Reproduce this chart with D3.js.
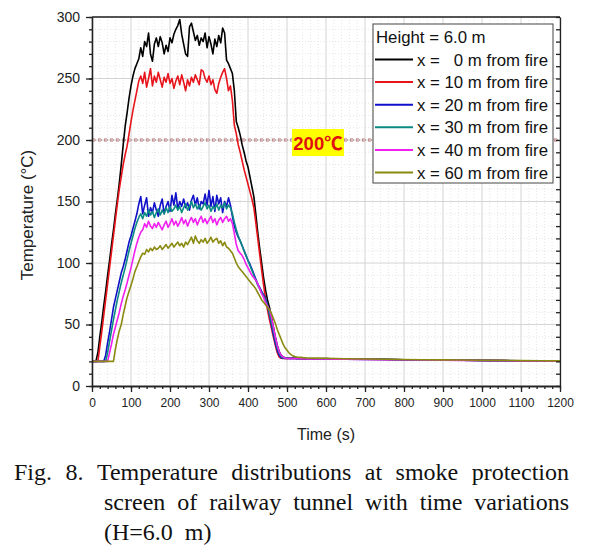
<!DOCTYPE html>
<html><head><meta charset="utf-8">
<script src="https://cdn.jsdelivr.net/npm/d3@7"></script>
<style>body{margin:0;background:#fff}svg{display:block}</style>
</head><body><svg id="chart" width="590" height="551"></svg>
<script>
// ---- data ----
const times = [0,5,10,15,20,25,30,35,40,45,50,
55,60,65,70,75,80,85,90,95,100,
105,110,115,120,125,130,135,140,145,150,
155,160,165,170,175,180,185,190,195,200,
205,210,215,220,225,230,235,240,245,250,
255,260,265,270,275,280,285,290,295,300,
305,310,315,320,325,330,335,340,345,350,
355,360,365,370,375,380,385,390,395,400,
405,410,415,420,425,430,435,440,445,450,
455,460,465,470,475,480,485,490,495,500,
505,510,515,520,525,530,535,540,545,550,
575,600,625,650,700,750,800,850,900,950,1000,1050,1100,1150,1200];

const x0m = [20,20,20,27,40,52,65,77,90,102,115,
127,140,152,165,180,196,211,222,234,244,
252,258,262,266,275,268,280,276,287,270,
264,278,283,276,284,279,270,277,272,283,
279,286,290,293,298,286,278,270,268,292,
295,288,281,285,277,283,280,287,275,284,
278,270,282,276,285,279,291,287,265,262,
258,254,240,215,210,204,196,190,183,178,
170,162,154,140,125,112,100,88,78,70,
64,56,48,40,33,28,25,23.5,23,22.8,
22.6,23,22.7,22.5,22.8,22.4,22.6,22.3,22.5,22.4,
22.2,22.3,22,22.1,21.8,21.7,21.4,21.3,21.1,21,20.8,20.7,20.5,20.4,20.3];

const x10m = [20,20,20,20,32,44,57,70,83,96,109,
122,135,148,160,170,180,188,195,205,215,
224,232,240,248,252,246,255,243,250,258,
244,252,247,255,249,243,251,247,254,246,
250,242,248,252,245,253,247,240,249,244,
251,247,253,249,245,257,256,250,247,252,
245,249,241,238,246,251,255,258,250,240,
244,232,212,205,196,190,183,176,170,164,
158,152,145,133,120,107,94,82,71,62,
54,47,40,33,27,23.5,22.5,22.3,22.5,22.2,
22.6,22.4,22.3,22.6,22.2,22.5,22.3,22.1,22.4,22.2,
22.1,22.2,21.9,22,21.7,21.6,21.4,21.2,21.1,20.9,20.8,20.6,20.5,20.4,20.2];

const x20m = [20,20,20,20,20,20,20,25,35,44,54,
64,71,78,85,92,97,103,110,117,122,
128,134,140,148,154,140,147,153,138,145,
141,149,143,138,147,152,140,146,150,142,
155,147,157,144,150,146,152,145,149,143,
151,155,147,153,144,150,148,156,147,159,
146,154,142,155,148,153,141,150,146,153,
147,138,130,125,121,118,114,110,106,102,
99,95,91,87,83,80,77,74,71,66,
58,50,42,35,29,25,23,22.5,22.3,22.6,
22.4,22.2,22.5,22.3,22.1,22.4,22.2,22.3,22,22.2,
22,22.1,21.9,21.8,21.6,21.5,21.3,21.2,21,20.9,20.7,20.6,20.5,20.3,20.2];

const x30m = [20,20,20,20,20,20,20,20,27,36,45,
54,62,70,77,84,90,96,103,110,116,
122,128,133,137,140,136,141,138,143,139,
142,137,141,144,139,143,140,145,141,146,
142,144,147,143,146,141,145,148,143,146,
150,145,148,144,147,143,146,149,144,147,
142,146,144,148,143,147,145,149,144,147,
145,140,133,127,122,118,114,110,106,102,
98,94,90,86,82,79,76,73,70,65,
59,52,45,38,31,27,24,23,22.6,22.8,
22.5,22.7,22.4,22.6,22.3,22.5,22.2,22.4,22.3,22.1,
22.1,22,21.9,21.8,21.7,21.5,21.4,21.2,21.1,20.9,20.8,20.6,20.5,20.4,20.3];

const x40m = [20,20,20,20,20,20,20,20,20,27,34,
42,48,54,60,67,73,78,84,90,96,
103,110,116,121,125,127,132,129,134,130,
128,132,129,133,130,127,131,134,129,132,
136,131,134,130,133,137,132,135,130,134,
137,133,136,131,135,138,133,136,132,135,
138,133,136,131,135,137,133,136,138,134,
136,132,124,115,110,108,106,103,99,96,
93,90,88,86,83,79,75,72,68,65,
62,56,48,40,33,28,25,23.5,22.8,22.5,
22.3,22.6,22.4,22.2,22.5,22.3,22.1,22.4,22.2,22,
22,21.9,21.8,21.8,21.6,21.4,21.3,21.1,21,20.8,20.7,20.6,20.4,20.3,20.2];

const x60m = [20,20,20,20,20,20,20,20,20,20,20,
20,30,38,45,50,58,65,72,77,82,
87,93,97,101,105,108,107,111,109,112,
110,113,111,112,114,111,113,115,112,114,
116,113,115,117,114,116,113,117,115,118,
121,116,122,118,116,119,117,120,116,118,
121,117,119,120,116,118,114,117,113,112,
110,108,104,100,97,95,93,91,89,87,
85,83,81,79,76,73,70,68,66,64,
62,59,55,51,46,42,38,34,31,29,
27,25.5,24.5,24,23.6,23.4,23.3,23.1,23,22.9,
22.7,22.5,22.3,22.2,22,21.8,21.6,21.4,21.2,21.1,20.9,20.8,20.6,20.5,20.4];

const seriesNames = ["x =   0 m from fire","x = 10 m from fire","x = 20 m from fire","x = 30 m from fire","x = 40 m from fire","x = 60 m from fire"];
const seriesValues = [x0m, x10m, x20m, x30m, x40m, x60m];
const seriesColors = ["#000000","#e8141c","#1010c8","#0a8a82","#f020f0","#8a8a10"];
const xTicks = [0,100,200,300,400,500,600,700,800,900,1000,1100,1200];
const yTicks = [0,50,100,150,200,250,300];
const threshold = 200;
const thresholdLabel = "200℃";
const legendTitle = "Height = 6.0 m";
const xTitle = "Time (s)";
const yTitle = "Temperature (°C)";
const captionLines = [
  ["Fig.","8.","Temperature","distributions","at","smoke","protection"],
  ["screen","of","railway","tunnel","with","time","variations"]
];
const captionLast = "(H=6.0  m)";

// ---- layout ----
const svg = d3.select("#chart");
const L = 92, R = 560, T = 17, B = 386;
const x = d3.scaleLinear().domain([0,1200]).range([L,R]);
const y = d3.scaleLinear().domain([0,300]).range([B,T]);
const sans = "'Liberation Sans', Arial, sans-serif";

// grids
const gMinor = svg.append("g");
x.ticks(60).forEach(v => { if (v % 100) gMinor.append("line").attr("x1",x(v)).attr("x2",x(v)).attr("y1",T).attr("y2",B).attr("stroke","#e6e6e6").attr("stroke-dasharray","1,2"); });
y.ticks(30).forEach(v => { if (v % 50) gMinor.append("line").attr("y1",y(v)).attr("y2",y(v)).attr("x1",L).attr("x2",R).attr("stroke","#e6e6e6").attr("stroke-dasharray","1,2"); });
const gMajor = svg.append("g");
xTicks.forEach(v => gMajor.append("line").attr("x1",x(v)).attr("x2",x(v)).attr("y1",T).attr("y2",B).attr("stroke","#d4d4d4"));
yTicks.forEach(v => gMajor.append("line").attr("y1",y(v)).attr("y2",y(v)).attr("x1",L).attr("x2",R).attr("stroke","#d4d4d4"));

// threshold line
svg.append("line").attr("x1",x(0)).attr("x2",x(1200)).attr("y1",y(threshold)).attr("y2",y(threshold))
  .attr("stroke","#d9b9b9").attr("stroke-width",4).attr("stroke-dasharray","3,3");
svg.append("line").attr("x1",x(0)).attr("x2",x(1200)).attr("y1",y(threshold)).attr("y2",y(threshold))
  .attr("stroke","#9a6a6a").attr("stroke-width",1).attr("stroke-dasharray","1,2");

// series
svg.append("clipPath").attr("id","clip").append("rect").attr("x",L).attr("y",T).attr("width",R-L).attr("height",B-T);
const line = d3.line().x((d,i)=>x(times[i])).y(d=>y(d));
const gLines = svg.append("g").attr("clip-path","url(#clip)");
seriesValues.forEach((vals,k) => {
  gLines.append("path").datum(vals).attr("d",line).attr("fill","none")
    .attr("stroke",seriesColors[k]).attr("stroke-width",1.6).attr("stroke-linejoin","round");
});

// axes
const axisStyle = g => { g.selectAll("path,line").attr("stroke","#222").attr("stroke-width",1.3); g.selectAll("text").attr("fill","#222").attr("font-family",sans); };
svg.append("g").attr("transform",`translate(0,${B})`)
  .call(d3.axisBottom(x).tickValues(x.ticks(60)).tickSize(3).tickSizeOuter(0).tickFormat("")).call(axisStyle);
svg.append("g").attr("transform",`translate(0,${B})`)
  .call(d3.axisBottom(x).tickValues(xTicks).tickSize(6).tickSizeOuter(0).tickPadding(6).tickFormat(d3.format("d")))
  .call(axisStyle).call(g=>g.selectAll("text").attr("font-size",12));
svg.append("g").attr("transform",`translate(${L},0)`)
  .call(d3.axisLeft(y).tickValues(y.ticks(30)).tickSize(3).tickSizeOuter(0).tickFormat("")).call(axisStyle);
svg.append("g").attr("transform",`translate(${L},0)`)
  .call(d3.axisLeft(y).tickValues(yTicks).tickSize(6).tickSizeOuter(0).tickPadding(6).tickFormat(d3.format("d")))
  .call(axisStyle).call(g=>g.selectAll("text").attr("font-size",14));
svg.append("g").attr("transform",`translate(${R},0)`)
  .call(d3.axisRight(y).tickValues(y.ticks(30)).tickSize(-4).tickSizeOuter(0).tickFormat("")).call(axisStyle);
svg.append("line").attr("x1",L).attr("x2",R).attr("y1",T).attr("y2",T).attr("stroke","#222").attr("stroke-width",1.3);

// axis titles
svg.append("text").attr("x",(L+R)/2).attr("y",440).attr("text-anchor","middle")
  .attr("font-family",sans).attr("font-size",16).attr("fill","#222").text(xTitle);
svg.append("text").attr("transform","translate(33,215) rotate(-90)").attr("text-anchor","middle")
  .attr("font-family",sans).attr("font-size",17).attr("fill","#222").text(yTitle);

// threshold label
svg.append("rect").attr("x",292).attr("y",129).attr("width",52).attr("height",27).attr("fill","#ffff00");
svg.append("text").attr("x",318).attr("y",150).attr("text-anchor","middle")
  .attr("font-family","'Liberation Sans','Noto Sans CJK SC',sans-serif").attr("font-weight","bold")
  .attr("font-size",18.5).attr("fill","#e01010").text(thresholdLabel);

// legend
const lg = svg.append("g");
lg.append("rect").attr("x",373).attr("y",24).attr("width",180).attr("height",159)
  .attr("fill","#fff").attr("stroke","#444").attr("stroke-width",1);
lg.append("text").attr("x",376).attr("y",42.5).attr("font-family",sans).attr("font-size",16.8).attr("fill","#111").text(legendTitle);
seriesNames.forEach((n,k) => {
  const cy = 59.5 + k*22.6;
  lg.append("line").attr("x1",375).attr("x2",413).attr("y1",cy).attr("y2",cy).attr("stroke",seriesColors[k]).attr("stroke-width",2);
  lg.append("text").attr("x",417).attr("y",cy+6).attr("font-family",sans).attr("font-size",16.8)
    .attr("fill","#111").style("white-space","pre").text(n);
});

// caption (justified)
const serif = "'Liberation Serif','Times New Roman',serif";
function justify(words, xa, xb, base) {
  const nodes = words.map(w => svg.append("text").attr("y",base).attr("font-family",serif).attr("font-size",24).attr("fill","#111").text(w));
  const widths = nodes.map(n => n.node().getComputedTextLength());
  const gap = (xb - xa - d3.sum(widths)) / (words.length - 1);
  let cx = xa;
  nodes.forEach((n,i) => { n.attr("x",cx); cx += widths[i] + gap; });
}
justify(captionLines[0], 14, 569, 480);
justify(captionLines[1], 104, 569, 510);
svg.append("text").attr("x",104).attr("y",540).attr("font-family",serif).attr("font-size",24)
  .attr("fill","#111").style("white-space","pre").text(captionLast);
</script>
</body></html>
